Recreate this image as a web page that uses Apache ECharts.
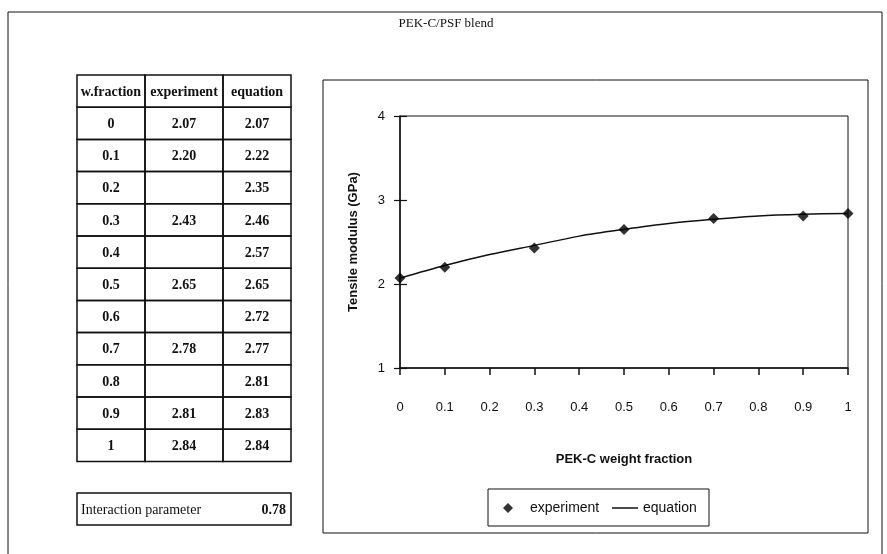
<!DOCTYPE html>
<html>
<head>
<meta charset="utf-8">
<title>PEK-C/PSF blend</title>
<script src="https://cdn.jsdelivr.net/npm/echarts@6/dist/echarts.min.js"></script>
<style>
  html, body { margin: 0; padding: 0; background: #fff; }
  #chart { width: 887px; height: 554px; }
</style>
</head>
<body>
<div id="chart"></div>
<script>
// PEK-C/PSF blend: table + tensile modulus chart

// ─── data ─────────────────────────────────────────────
const W_FRACTION = [0, 0.1, 0.2, 0.3, 0.4, 0.5, 0.6, 0.7, 0.8, 0.9, 1];
const EXPERIMENT = [2.07, 2.20, null, 2.43, null, 2.65, null, 2.78, null, 2.81, 2.84];
const EQUATION   = [2.07, 2.22, 2.35, 2.46, 2.57, 2.65, 2.72, 2.77, 2.81, 2.83, 2.84];
const TABLE_HEADERS = ["w.fraction", "experiment", "equation"];
const INTERACTION_PARAMETER = 0.78;

// ─── styles ───────────────────────────────────────────
const INK = "#111";
const SERIF = '"Liberation Serif", "Times New Roman", serif';
const SANS = '"Liberation Sans", Arial, sans-serif';

// table geometry (left block)
const COL_X = [77, 145, 223, 291];
const ROW_TOP = 75;
const ROW_H = 32.2;

function txt(text, x, y, font, align) {
  return {
    type: "text",
    silent: true,
    style: {
      text: text, x: x, y: y, font: font, fill: INK,
      align: align || "center", verticalAlign: "middle",
      textAlign: align || "center", textVerticalAlign: "middle"
    }
  };
}

function box(x, y, w, h, lw) {
  return {
    type: "rect",
    silent: true,
    shape: { x: x, y: y, width: w, height: h },
    style: { fill: "none", stroke: INK, lineWidth: lw || 1 }
  };
}

// build the value table from the arrays
function buildTable() {
  const els = [];
  const rows = [TABLE_HEADERS].concat(W_FRACTION.map((w, i) => [
    String(w),
    EXPERIMENT[i] == null ? "" : EXPERIMENT[i].toFixed(2),
    EQUATION[i].toFixed(2)
  ]));
  rows.forEach((row, r) => {
    const y = ROW_TOP + r * ROW_H;
    row.forEach((cell, c) => {
      const x0 = COL_X[c], x1 = COL_X[c + 1];
      els.push(box(x0, y, x1 - x0, ROW_H, 1.5));
      if (cell) els.push(txt(cell, (x0 + x1) / 2, y + ROW_H / 2 + 1, "bold 14px " + SERIF));
    });
  });
  // interaction parameter box
  els.push(box(77, 493, 214, 32, 1.5));
  els.push(txt("Interaction parameter", 81, 510, "14px " + SERIF, "left"));
  els.push(txt(INTERACTION_PARAMETER.toFixed(2), 286, 510, "bold 14px " + SERIF, "right"));
  return els;
}

// ─── chart ────────────────────────────────────────────
const chart = echarts.init(document.getElementById("chart"), null, { renderer: "canvas" });

const experimentPts = W_FRACTION.map((w, i) => [w, EXPERIMENT[i]]).filter(p => p[1] != null);
const equationPts = W_FRACTION.map((w, i) => [w, EQUATION[i]]);

const yAxisBase = {
  type: "value", min: 1, max: 4, interval: 1,
  splitLine: { show: false }
};

chart.setOption({
  backgroundColor: "#fff",
  animation: false,
  textStyle: { fontFamily: SANS, color: INK },
  graphic: [
    box(8, 12, 874, 560, 1),          // outer frame
    box(323, 80, 545, 453, 1),        // chart frame
    box(488, 489, 221, 37, 1),        // legend frame
    txt("PEK-C/PSF blend", 446, 24, "13px " + SERIF)
  ].concat(buildTable()),
  grid: {
    left: 400, right: 39, top: 116, bottom: 186,
    show: true, borderColor: INK, borderWidth: 1
  },
  legend: [
    {
      data: [{ name: "experiment", icon: "diamond" }],
      left: 503, top: 501, padding: 0, selectedMode: false,
      itemWidth: 10, itemHeight: 10,
      itemStyle: { color: "#000" },
      textStyle: { fontFamily: SANS, fontSize: 14, color: INK, padding: [0, 0, 0, 12] }
    },
    {
      data: [{ name: "equation", icon: "rect" }],
      left: 612, top: 501, padding: 0, selectedMode: false,
      itemWidth: 26, itemHeight: 1.5,
      itemStyle: { color: INK },
      textStyle: { fontFamily: SANS, fontSize: 14, color: INK }
    }
  ],
  xAxis: {
    type: "value", min: 0, max: 1, interval: 0.1,
    name: "PEK-C weight fraction",
    nameLocation: "middle", nameGap: 85,
    nameTextStyle: { fontFamily: SANS, fontSize: 13, fontWeight: "bold", color: INK },
    axisLine: { lineStyle: { color: INK, width: 1.5 } },
    axisTick: { length: 7, lineStyle: { color: INK, width: 1.5 } },
    axisLabel: { fontFamily: SANS, fontSize: 13, color: INK, margin: 33 },
    splitLine: { show: false }
  },
  yAxis: [
    Object.assign({}, yAxisBase, {
      name: "Tensile modulus (GPa)",
      nameLocation: "middle", nameGap: 40,
      nameTextStyle: { fontFamily: SANS, fontSize: 13, fontWeight: "bold", color: INK },
      axisLine: { show: true, lineStyle: { color: INK, width: 1.5 } },
      axisTick: { show: true, length: 6, lineStyle: { color: INK, width: 1.2 } },
      axisLabel: { fontFamily: SANS, fontSize: 13, color: INK, margin: 15 }
    }),
    // inner half of the crossing ticks
    Object.assign({}, yAxisBase, {
      position: "left",
      axisLine: { show: false },
      axisTick: { show: true, inside: true, length: 7, lineStyle: { color: INK, width: 1.2 } },
      axisLabel: { show: false }
    })
  ],
  series: [
    {
      name: "equation",
      type: "line",
      data: equationPts,
      smooth: 0.3,
      symbol: "none",
      lineStyle: { color: INK, width: 1.5 },
      itemStyle: { color: INK },
      z: 2
    },
    {
      name: "experiment",
      type: "scatter",
      data: experimentPts,
      symbol: "diamond",
      symbolSize: 11,
      itemStyle: { color: "#000" },
      z: 3
    }
  ]
});
</script>
</body>
</html>
